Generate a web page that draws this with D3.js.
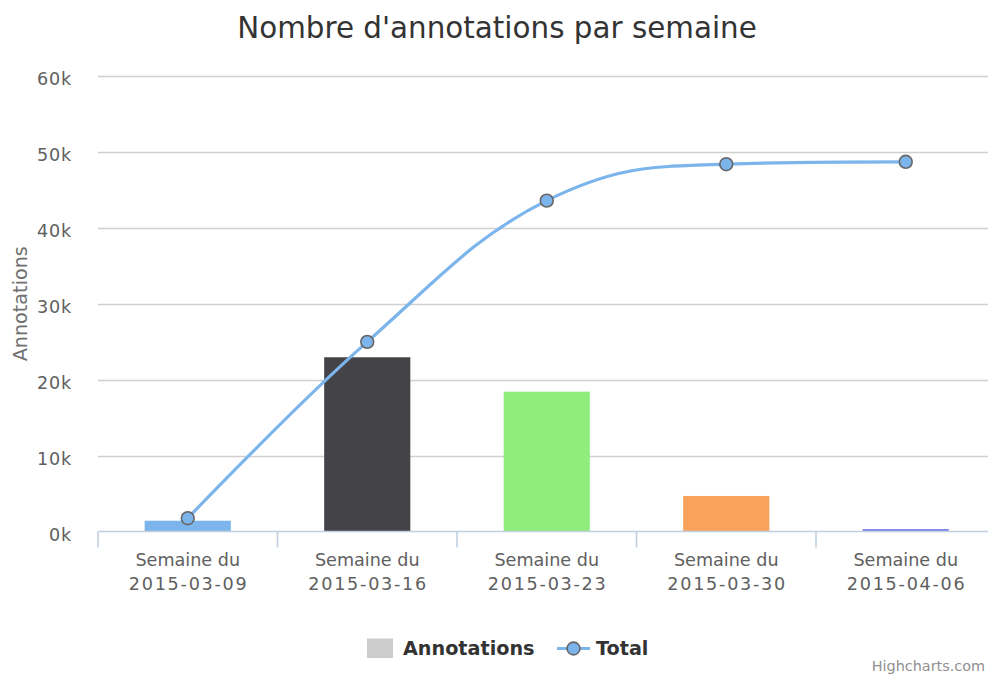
<!DOCTYPE html>
<html><head><meta charset="utf-8">
<script src="https://cdn.jsdelivr.net/npm/d3@7"></script>
<style>
html,body{margin:0;padding:0;background:#fff;overflow:hidden;}
svg{display:block;font-family:"DejaVu Sans",sans-serif;}
</style></head>
<body>
<svg id="chart" width="988" height="675"></svg>
<script>
const categories = ["2015-03-09","2015-03-16","2015-03-23","2015-03-30","2015-04-06"];
const annotations = [1420, 22950, 18420, 4680, 330];
const totals = [1750, 24980, 43580, 48380, 48700];
const barColors = ["#7cb5ec","#434348","#90ed7d","#f7a35c","#8085e9"];
const yTicks = [0,10000,20000,30000,40000,50000,60000];
const titleText = "Nombre d'annotations par semaine";
const yTitle = "Annotations";
const catPrefix = "Semaine du";

(function(){
const svg = d3.select("#chart");
const pL = 98, pR = 995.5, pT = 76, pB = 531.5;

const x = d3.scaleBand().domain(categories).range([pL, pR]).padding(0);
const y = d3.scaleLinear().domain([0, 60000]).range([pB, pT]);

// title
svg.append("text").attr("x", 497).attr("y", 38).attr("text-anchor","middle")
  .attr("fill","#333333").style("font-size","29.4px").text(titleText);

// grid lines
svg.append("g").selectAll("line").data(yTicks.filter(d=>d>0)).join("line")
  .attr("x1", pL).attr("x2", pR)
  .attr("y1", d=>Math.round(y(d))+0.5).attr("y2", d=>Math.round(y(d))+0.5)
  .attr("stroke","#D0D0D0").attr("stroke-width",1.6);

// y axis labels
const yAxis = d3.axisLeft(y).tickValues(yTicks).tickFormat(d=>(d/1000)+"k").tickSize(0).tickPadding(0);
const yg = svg.append("g").attr("transform",`translate(72,0)`).call(yAxis);
yg.select(".domain").remove();
yg.selectAll("text").attr("fill","#606060").style("font-size","17.6px")
  .style("font-family","DejaVu Sans, sans-serif").attr("dy","0.5em").attr("x",0)
  .style("letter-spacing","0.8px");

// y title
svg.append("text").attr("transform",`translate(26.5,${(pT+pB)/2}) rotate(-90)`)
  .attr("text-anchor","middle").attr("fill","#707070").style("font-size","19.2px").text(yTitle);

// bars
const bw = x.bandwidth()*0.48;
svg.append("g").selectAll("rect").data(categories).join("rect")
  .attr("x", (d)=>x(d)+x.bandwidth()/2-bw/2)
  .attr("width", bw)
  .attr("y", (d,i)=>y(annotations[i]))
  .attr("height", (d,i)=>y(0)-y(annotations[i]))
  .attr("fill", (d,i)=>barColors[i]);

// x axis
svg.append("line").attr("x1",pL).attr("x2",pR).attr("y1",pB).attr("y2",pB)
  .attr("stroke","#C0D0E0").attr("stroke-width",1.6);
const tickPos = categories.map(c=>x(c));
svg.append("g").selectAll("line").data(tickPos).join("line")
  .attr("x1",d=>d).attr("x2",d=>d).attr("y1",pB).attr("y2",pB+16)
  .attr("stroke","#C0D0E0").attr("stroke-width",1.6);
const xl = svg.append("g").selectAll("text").data(categories).join("text")
  .attr("x", d=>x(d)+x.bandwidth()/2).attr("text-anchor","middle")
  .attr("fill","#606060").style("font-size","17.6px");
xl.append("tspan").attr("x", d=>x(d)+x.bandwidth()/2).attr("y",566).text(catPrefix);
xl.append("tspan").attr("x", d=>x(d)+x.bandwidth()/2+0.9).attr("y",590)
  .style("letter-spacing","1.75px").text(d=>d);

// Highcharts-like spline
const pts = categories.map((c,i)=>[x(c)+x.bandwidth()/2, y(totals[i])]);
function splinePath(p){
  const sm=1.5, den=sm+1;
  const ctrl = p.map((pt,i)=>{
    if(i===0||i===p.length-1) return null;
    const [px,py]=pt,[lx,ly]=p[i-1],[nx,ny]=p[i+1];
    let lcx=(sm*px+lx)/den, lcy=(sm*py+ly)/den, rcx=(sm*px+nx)/den, rcy=(sm*py+ny)/den;
    const corr=((rcy-lcy)*(rcx-px))/(rcx-lcx)+py-rcy;
    lcy+=corr; rcy+=corr;
    if(lcy>ly&&lcy>py){lcy=Math.max(ly,py);rcy=2*py-lcy;}
    else if(lcy<ly&&lcy<py){lcy=Math.min(ly,py);rcy=2*py-lcy;}
    if(rcy>ny&&rcy>py){rcy=Math.max(ny,py);lcy=2*py-rcy;}
    else if(rcy<ny&&rcy<py){rcy=Math.min(ny,py);lcy=2*py-rcy;}
    return {lcx,lcy,rcx,rcy};
  });
  const path=d3.path();
  path.moveTo(p[0][0],p[0][1]);
  for(let i=1;i<p.length;i++){
    const prev=ctrl[i-1], cur=ctrl[i];
    path.bezierCurveTo(prev?prev.rcx:p[i-1][0], prev?prev.rcy:p[i-1][1],
      cur?cur.lcx:p[i][0], cur?cur.lcy:p[i][1], p[i][0], p[i][1]);
  }
  return path.toString();
}
svg.append("path").attr("d",splinePath(pts)).attr("fill","none")
  .attr("stroke","#7cb5ec").attr("stroke-width",3.2).attr("stroke-linejoin","round");
svg.append("g").selectAll("circle").data(pts).join("circle")
  .attr("cx",d=>d[0]).attr("cy",d=>d[1]).attr("r",6.4)
  .attr("fill","#7cb5ec").attr("stroke","#666666").attr("stroke-width",1.6);

// legend
const lg = svg.append("g");
lg.append("rect").attr("x",367).attr("y",638.5).attr("width",26).attr("height",19.5).attr("fill","#cccccc");
lg.append("text").attr("x",403).attr("y",655).attr("fill","#333333").style("font-size","19.2px")
  .style("font-weight","bold").text("Annotations");
lg.append("line").attr("x1",557).attr("x2",590).attr("y1",648.5).attr("y2",648.5)
  .attr("stroke","#7cb5ec").attr("stroke-width",3.2);
lg.append("circle").attr("cx",573.5).attr("cy",648.5).attr("r",6.4)
  .attr("fill","#7cb5ec").attr("stroke","#666666").attr("stroke-width",1.6);
lg.append("text").attr("x",596).attr("y",655).attr("fill","#333333").style("font-size","19.2px")
  .style("font-weight","bold").text("Total");

// credits
svg.append("text").attr("x",985).attr("y",671).attr("text-anchor","end").attr("fill","#909090")
  .style("font-size","14.4px").text("Highcharts.com");
})();
</script>
</body></html>
